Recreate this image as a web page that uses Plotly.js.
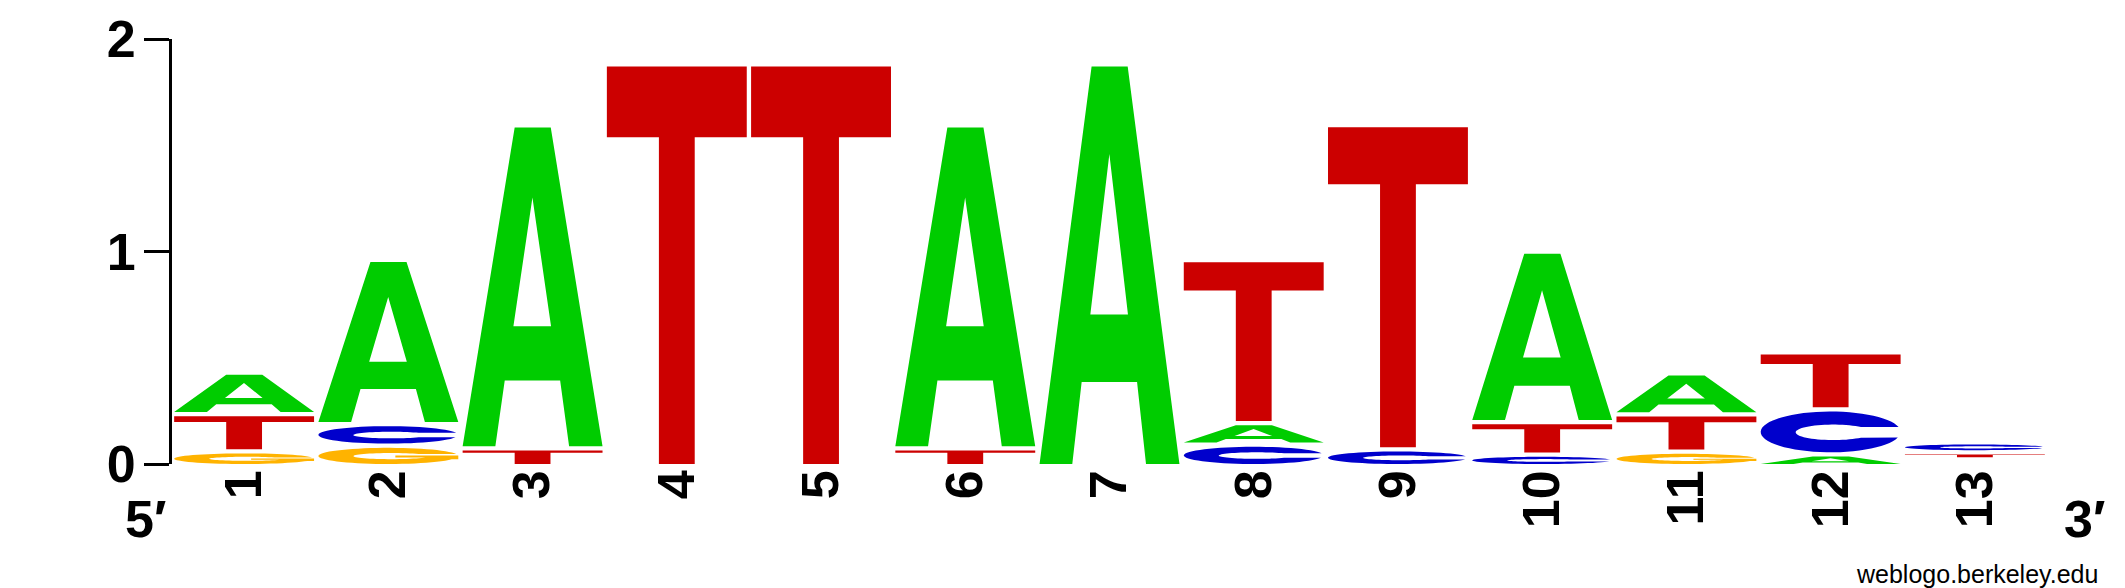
<!DOCTYPE html>
<html><head><meta charset="utf-8">
<script src="https://cdn.plot.ly/plotly-3.0.1.min.js"></script>
<style>html,body{margin:0;padding:0;background:#fff}</style>
</head><body><div id="chart" style="width:2125px;height:588px"></div>
<script>
// ---- data (bits per letter at each position) ----
const positions = [1,2,3,4,5,6,7,8,9,10,11,12,13];
const tickLabels = ['1','2','3','4','5','6','7','8','9','10','11','12','13'];
const bitsA = [0.195,0.773,1.52,0,0,1.52,1.871,0.101,0,0.803,0.192,0.035,0.006];
const bitsC = [0,0.102,0,0,0,0,0,0.081,0.059,0.034,0,0.212,0.047];
const bitsG = [0.05,0.076,0,0,0,0,0,0,0,0,0.048,0,0.006];
const bitsT = [0.175,0,0.064,1.871,1.871,0.064,0,0.768,1.526,0.153,0.176,0.268,0.033];
const yTicks = [0,1,2];
const endLabels = ['5\u2032','3\u2032'];
const creditText = 'weblogo.berkeley.edu';

// ---- styles ----
const letterColors = {A:'#00CC00', C:'#0000CC', G:'#FFB300', T:'#CC0000'};
const FONT = 'Liberation Sans, Arial, Helvetica, sans-serif';
const NARROW = 'Liberation Sans Narrow, Arial Narrow, Liberation Sans, sans-serif';
const GAP = 0.02;        // white gap between stacked letters (bits)
const MIN_DRAW = 0.008;  // letters thinner than this are not visible
const LETTER_W = 0.97;   // letter width as fraction of a column

// ---- glyph outlines in a unit box (u,v in 0..1, v up) ----
function arc(cx, cy, rx, ry, a0, a1, n) {
  const pts = [];
  for (let k = 0; k <= n; k++) {
    const a = (a0 + (a1 - a0) * k / n) * Math.PI / 180;
    pts.push([cx + rx * Math.cos(a), cy + ry * Math.sin(a)]);
  }
  return pts;
}
const GLYPHS = {
  A: [
    [[0,0],[0.372,1],[0.63,1],[1,0],[0.761,0],[0.697,0.206],[0.301,0.206],[0.234,0]],
    [[0.363,0.376],[0.499,0.78],[0.632,0.376]]
  ],
  T: [
    [[0,1],[1,1],[1,0.822],[0.628,0.822],[0.628,0],[0.372,0],[0.372,0.822],[0,0.822]]
  ],
  C: [
    arc(0.5,0.5,0.5,0.5,13.89,343.74,60).concat(arc(0.52,0.49,0.27,0.19,316.8,43.2,50))
  ],
  G: [
    arc(0.5,0.5,0.5,0.5,13.89,335,60)
      .concat([[1.0,0.289],[1.0,0.52],[0.55,0.52],[0.55,0.41],[0.765,0.41]])
      .concat(arc(0.52,0.49,0.27,0.19,335.1,43.2,50))
  ]
};

function glyphPath(letter, xc, y0, y1) {
  const xl = xc - LETTER_W / 2;
  return GLYPHS[letter].map(poly =>
    'M' + poly.map(p => (xl + p[0] * LETTER_W).toFixed(5) + ',' + (y0 + p[1] * (y1 - y0)).toFixed(5)).join('L') + 'Z'
  ).join(' ');
}

const shapes = [];
positions.forEach((pos, i) => {
  const stack = [
    {l:'A', h: bitsA[i]}, {l:'C', h: bitsC[i]}, {l:'G', h: bitsG[i]}, {l:'T', h: bitsT[i]}
  ].filter(s => s.h > 0).sort((a, b) => a.h - b.h);
  let base = 0;
  stack.forEach((s, k) => {
    const yb = base + (k > 0 ? GAP : 0);
    const yt = base + s.h;
    base = yt;
    if (yt - yb < MIN_DRAW) return;
    shapes.push({
      type: 'path', xref: 'x', yref: 'y', layer: 'above',
      path: glyphPath(s.l, pos, yb, yt),
      fillcolor: letterColors[s.l], line: {width: 0}, fillrule: 'evenodd'
    });
  });
});

// ---- layout geometry ----
const W = 2125, H = 588;
const M = {l: 172, r: 78, t: 39, b: 124};
const PW = W - M.l - M.r, PH = H - M.t - M.b;
const px2x = px => (px - M.l) / PW;
const py2y = py => (H - M.b - py) / PH;

const tickFont = {family: NARROW, size: 52, color: '#000', weight: 'bold'};

const layout = {
  width: W, height: H,
  margin: M,
  paper_bgcolor: '#fff', plot_bgcolor: '#fff',
  showlegend: false,
  xaxis: {
    range: [0.5, 13.5], showgrid: false, zeroline: false, showline: false,
    ticks: '', tickmode: 'array', tickvals: positions, ticktext: tickLabels,
    tickangle: -90, tickfont: tickFont, fixedrange: true, ticklabelstandoff: -5
  },
  yaxis: {
    range: [0, 2], showgrid: false, zeroline: false,
    showline: true, linewidth: 3, linecolor: '#000',
    ticks: 'outside', ticklen: 25, tickwidth: 3, tickcolor: '#000',
    tickmode: 'array', tickvals: yTicks, ticktext: yTicks.map(String),
    tickfont: tickFont, fixedrange: true, ticklabelstandoff: -2
  },
  shapes: shapes,
  annotations: [
    {xref:'paper', yref:'paper', x: px2x(145), y: py2y(519), xanchor:'center', yanchor:'middle',
     text: endLabels[0], showarrow:false, font: tickFont},
    {xref:'paper', yref:'paper', x: px2x(2084), y: py2y(519), xanchor:'center', yanchor:'middle',
     text: endLabels[1], showarrow:false, font: tickFont},
    {xref:'paper', yref:'paper', x: px2x(2100), y: py2y(574), xanchor:'right', yanchor:'middle',
     text: creditText, showarrow:false, font: {family: FONT, size: 25, color:'#000'}}
  ]
};

const traces = [{
  type: 'scatter', mode: 'markers', x: positions, y: positions.map(() => 0),
  marker: {size: 0, opacity: 0}, hoverinfo: 'skip', showlegend: false
}];

Plotly.newPlot('chart', traces, layout, {staticPlot: true, displayModeBar: false});
</script>
</body></html>
